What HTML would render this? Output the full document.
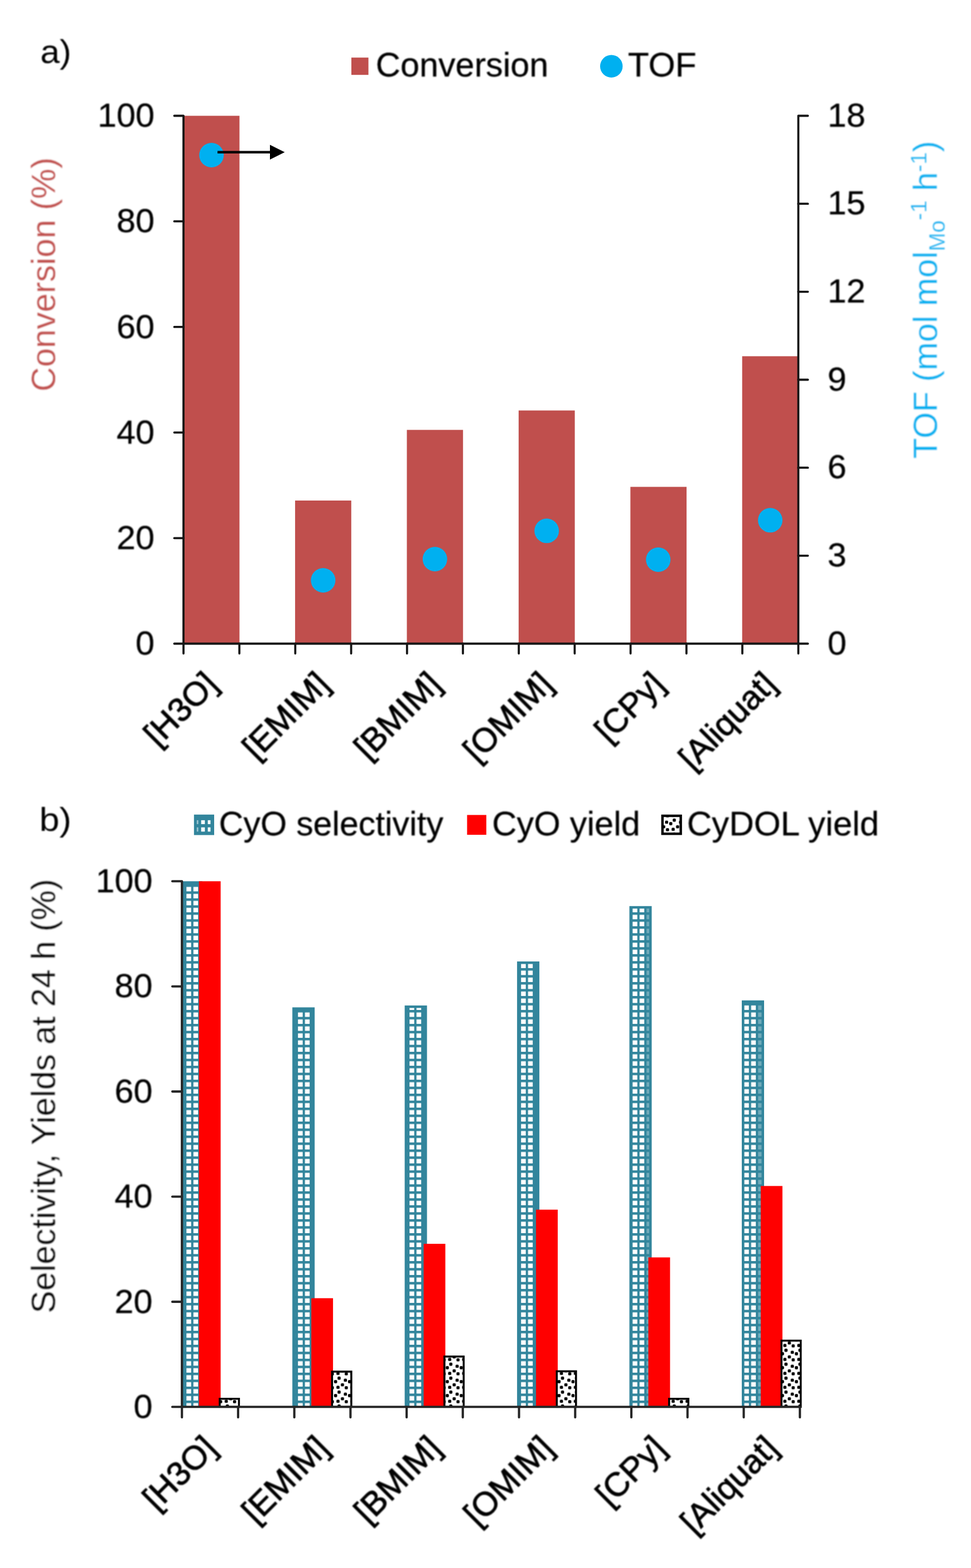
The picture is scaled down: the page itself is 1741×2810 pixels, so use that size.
<!DOCTYPE html>
<html lang="en">
<head>
<meta charset="utf-8">
<title>Conversion, TOF, selectivity and yields</title>
<style>
html,body{margin:0;padding:0;background:#fff;}
body{width:1741px;height:2810px;overflow:hidden;}
svg{display:block;}
</style>
</head>
<body>
<svg width="1741" height="2810" viewBox="0 0 1741 2810" role="img" aria-label="Bar charts of conversion, TOF, selectivity and yields for six catalysts">
<defs>
<filter id="soft" x="0" y="0" width="1741" height="2810" filterUnits="userSpaceOnUse"><feGaussianBlur stdDeviation="0.65"/></filter><filter id="softt" x="0" y="0" width="1741" height="2810" filterUnits="userSpaceOnUse"><feGaussianBlur stdDeviation="1.0"/></filter>
<pattern id="grid" patternUnits="userSpaceOnUse" x="5.20" y="9.90" width="12.5" height="12.5">
<rect width="12.5" height="12.5" fill="#31859C"/>
<rect x="4.10" y="4.50" width="8.4" height="8.0" fill="#fff"/>
</pattern>
<pattern id="gridp" patternUnits="userSpaceOnUse" x="5.20" y="9.90" width="12.5" height="12.5">
<rect width="12.5" height="12.5" fill="#31859C"/>
<rect x="4.10" y="4.50" width="8.4" height="8.0" fill="#fff" fill-opacity="0.3"/>
</pattern>
<pattern id="dots" patternUnits="userSpaceOnUse" x="21.18" y="11.20" width="25.04" height="25.0"><rect width="25.04" height="25.0" fill="#fff"/><g fill="#000"><rect x="6.10" y="-2.80" width="5.6" height="5.6" rx="1.6"/><rect x="6.10" y="22.20" width="5.6" height="5.6" rx="1.6"/><rect x="-4.04" y="-2.10" width="5.6" height="5.6" rx="1.6"/><rect x="-4.04" y="22.90" width="5.6" height="5.6" rx="1.6"/><rect x="21.00" y="-2.10" width="5.6" height="5.6" rx="1.6"/><rect x="21.00" y="22.90" width="5.6" height="5.6" rx="1.6"/><rect x="8.10" y="5.80" width="5.6" height="5.6" rx="1.6"/><rect x="1.80" y="12.10" width="5.6" height="5.6" rx="1.6"/><rect x="19.40" y="9.40" width="5.6" height="5.6" rx="1.6"/><rect x="14.10" y="17.70" width="5.6" height="5.6" rx="1.6"/></g></pattern>
</defs>
<rect width="1741" height="2810" fill="#fff"/>
<g filter="url(#soft)">
<g id="chart-a">
<rect x="328.7" y="207.5" width="100.7" height="946.0" fill="#C0504D"/>
<rect x="529.1" y="897.0" width="100.7" height="256.5" fill="#C0504D"/>
<rect x="729.5" y="770.4" width="100.7" height="383.1" fill="#C0504D"/>
<rect x="929.9" y="735.6" width="100.7" height="417.9" fill="#C0504D"/>
<rect x="1130.3" y="872.5" width="100.7" height="281.0" fill="#C0504D"/>
<rect x="1330.7" y="638.4" width="100.7" height="515.1" fill="#C0504D"/>
<g stroke="#141414" stroke-width="3.8" fill="none" stroke-linecap="round" stroke-linejoin="round">
<path d="M312.5 207.5H329.0V1153.5"/>
<path d="M1448.5 207.5H1431.4V1153.5"/>
<path d="M312.5 1153.5H1448.5"/>
<path d="M312.5 396.7H329.0"/>
<path d="M312.5 585.9H329.0"/>
<path d="M312.5 775.1H329.0"/>
<path d="M312.5 964.3H329.0"/>
<path d="M1431.4 365.2H1448.5"/>
<path d="M1431.4 522.8H1448.5"/>
<path d="M1431.4 680.5H1448.5"/>
<path d="M1431.4 838.2H1448.5"/>
<path d="M1431.4 995.8H1448.5"/>
<path d="M329.0 1153.5V1171"/>
<path d="M429.2 1153.5V1171"/>
<path d="M529.4 1153.5V1171"/>
<path d="M629.6 1153.5V1171"/>
<path d="M729.8 1153.5V1171"/>
<path d="M830.0 1153.5V1171"/>
<path d="M930.2 1153.5V1171"/>
<path d="M1030.4 1153.5V1171"/>
<path d="M1130.6 1153.5V1171"/>
<path d="M1230.8 1153.5V1171"/>
<path d="M1331.0 1153.5V1171"/>
<path d="M1431.4 1153.5V1171"/>
</g>
<circle cx="379.2" cy="278" r="22" fill="#00B0F0"/>
<circle cx="579.4" cy="1040" r="22" fill="#00B0F0"/>
<circle cx="779.8" cy="1002" r="22" fill="#00B0F0"/>
<circle cx="980.2" cy="951.3" r="22" fill="#00B0F0"/>
<circle cx="1180.2" cy="1003" r="22" fill="#00B0F0"/>
<circle cx="1381" cy="932.3" r="22" fill="#00B0F0"/>
<path d="M390 272.7H487" stroke="#000" stroke-width="4.4" fill="none"/>
<path d="M484 259.5L510.5 272.7L484 286Z" fill="#000"/>
<rect x="630" y="103.2" width="30.6" height="31" fill="#C0504D"/>
<circle cx="1096.2" cy="118.7" r="20.2" fill="#00B0F0"/>
</g>
<g id="chart-b">
<rect x="326.2" y="1579.3" width="36.5" height="942.0" fill="#31859C"/>
<rect x="330.70" y="1585.40" width="27.50" height="935.90" fill="url(#grid)"/>
<rect x="356.7" y="1579.3" width="38.9" height="942.0" fill="#FF0000"/>
<rect x="393.95" y="2506.75" width="34.50" height="14.55" fill="url(#dots)" stroke="#000" stroke-width="3.5"/>
<rect x="524.2" y="1805.3" width="40.0" height="716.0" fill="#31859C"/>
<rect x="530.70" y="1810.40" width="28.10" height="710.90" fill="url(#grid)"/>
<rect x="558.2" y="2326.5" width="38.9" height="194.8" fill="#FF0000"/>
<rect x="595.40" y="2458.05" width="34.50" height="63.25" fill="url(#dots)" stroke="#000" stroke-width="3.5"/>
<rect x="725.6" y="1801.9" width="40.0" height="719.4" fill="#31859C"/>
<rect x="730.70" y="1806.40" width="28.10" height="714.90" fill="url(#grid)"/>
<rect x="759.6" y="2229.0" width="38.9" height="292.3" fill="#FF0000"/>
<rect x="796.86" y="2431.05" width="34.50" height="90.25" fill="url(#dots)" stroke="#000" stroke-width="3.5"/>
<rect x="927.1" y="1723.0" width="40.0" height="798.3" fill="#31859C"/>
<rect x="931.56" y="1727.50" width="27.24" height="793.80" fill="url(#grid)"/>
<rect x="961.1" y="2167.8" width="38.9" height="353.5" fill="#FF0000"/>
<rect x="998.31" y="2457.45" width="34.50" height="63.85" fill="url(#dots)" stroke="#000" stroke-width="3.5"/>
<rect x="1128.5" y="1623.8" width="40.0" height="897.5" fill="#31859C"/>
<rect x="1133.02" y="1628.30" width="26.27" height="893.00" fill="url(#grid)"/>
<rect x="1159.29" y="1628.30" width="4.73" height="893.00" fill="url(#gridp)"/>
<rect x="1162.5" y="2253.4" width="38.9" height="267.9" fill="#FF0000"/>
<rect x="1199.77" y="2506.75" width="34.50" height="14.55" fill="url(#dots)" stroke="#000" stroke-width="3.5"/>
<rect x="1330.0" y="1792.8" width="40.0" height="728.5" fill="#31859C"/>
<rect x="1334.47" y="1797.90" width="24.82" height="723.40" fill="url(#grid)"/>
<rect x="1359.29" y="1797.90" width="6.18" height="723.40" fill="url(#gridp)"/>
<rect x="1364.0" y="2125.4" width="38.9" height="395.9" fill="#FF0000"/>
<rect x="1401.22" y="2402.55" width="34.50" height="118.75" fill="url(#dots)" stroke="#000" stroke-width="3.5"/>
<g stroke="#262626" stroke-width="4.1" fill="none" stroke-linecap="round" stroke-linejoin="round">
<path d="M309 1579.3H326.2V2521.3"/>
<path d="M309 2521.3H1434.2"/>
<path d="M309 1767.7H326.2"/>
<path d="M309 1956.1H326.2"/>
<path d="M309 2144.5H326.2"/>
<path d="M309 2332.9H326.2"/>
<path d="M326.2 2521.3V2540"/>
<path d="M426.9 2521.3V2540"/>
<path d="M527.7 2521.3V2540"/>
<path d="M628.4 2521.3V2540"/>
<path d="M729.1 2521.3V2540"/>
<path d="M829.8 2521.3V2540"/>
<path d="M930.6 2521.3V2540"/>
<path d="M1031.3 2521.3V2540"/>
<path d="M1132.0 2521.3V2540"/>
<path d="M1232.7 2521.3V2540"/>
<path d="M1333.5 2521.3V2540"/>
<path d="M1434.2 2521.3V2540"/>
</g>
<rect x="347.8" y="1459.8" width="36.2" height="36.7" fill="#31859C"/>
<rect x="352.8" y="1469.9" width="2.8" height="7.0" fill="#fff" fill-opacity="0.5"/>
<rect x="352.8" y="1482.7" width="2.8" height="7.6" fill="#fff" fill-opacity="0.5"/>
<rect x="360.7" y="1469.9" width="6.6" height="7.0" fill="#fff" fill-opacity="1"/>
<rect x="360.7" y="1482.7" width="6.6" height="7.6" fill="#fff" fill-opacity="1"/>
<rect x="372.6" y="1469.9" width="4.8" height="7.0" fill="#fff" fill-opacity="1"/>
<rect x="372.6" y="1482.7" width="4.8" height="7.6" fill="#fff" fill-opacity="1"/>
<rect x="837.5" y="1460.5" width="34.5" height="35.5" fill="#FF0000"/>
<rect x="1187.8" y="1462.0" width="32.8" height="32.2" fill="url(#dots)" stroke="#000" stroke-width="4.4"/>
</g>
</g>
<g id="labels" font-family='"Liberation Sans", Arial, Helvetica, sans-serif' font-size="60" fill="#000" stroke="#000" stroke-width="0.35" stroke-linejoin="round" filter="url(#softt)">
<text transform="translate(72.17 113.30) scale(1.0435 1.0000)" stroke="none">a)</text>
<text transform="translate(70.38 1488.50) scale(1.0800 1.0000)" stroke="none">b)</text>
<text transform="translate(673.69 137.30) scale(1.0037 1.0000)" font-size="61">Conversion</text>
<text transform="translate(1125.68 137.30) scale(1.0171 1.0000)" font-size="61">TOF</text>
<text transform="translate(392.51 1496.70) scale(0.9978 1.0000)" font-size="61">CyO selectivity</text>
<text transform="translate(882.29 1496.70) scale(1.0043 1.0000)" font-size="61">CyO yield</text>
<text transform="translate(1231.66 1496.70) scale(1.0129 1.0000)" font-size="61">CyDOL yield</text>
<text transform="translate(277.0 227.2) scale(1.02 1)" text-anchor="end">100</text>
<text transform="translate(277.0 416.4) scale(1.02 1)" text-anchor="end">80</text>
<text transform="translate(277.0 605.6) scale(1.02 1)" text-anchor="end">60</text>
<text transform="translate(277.0 794.8) scale(1.02 1)" text-anchor="end">40</text>
<text transform="translate(277.0 984.0) scale(1.02 1)" text-anchor="end">20</text>
<text transform="translate(277.0 1173.2) scale(1.02 1)" text-anchor="end">0</text>
<text transform="translate(1483.8 226.5) scale(1.02 1)">18</text>
<text transform="translate(1483.8 384.2) scale(1.02 1)">15</text>
<text transform="translate(1483.8 541.8) scale(1.02 1)">12</text>
<text transform="translate(1483.8 699.5) scale(1.02 1)">9</text>
<text transform="translate(1483.8 857.2) scale(1.02 1)">6</text>
<text transform="translate(1483.8 1014.8) scale(1.02 1)">3</text>
<text transform="translate(1483.8 1172.5) scale(1.02 1)">0</text>
<text transform="translate(273.5 1599.0) scale(1.02 1)" text-anchor="end">100</text>
<text transform="translate(273.5 1787.4) scale(1.02 1)" text-anchor="end">80</text>
<text transform="translate(273.5 1975.8) scale(1.02 1)" text-anchor="end">60</text>
<text transform="translate(273.5 2164.2) scale(1.02 1)" text-anchor="end">40</text>
<text transform="translate(273.5 2352.6) scale(1.02 1)" text-anchor="end">20</text>
<text transform="translate(273.5 2541.0) scale(1.02 1)" text-anchor="end">0</text>
<text transform="translate(393.5 1229.5) rotate(-45)" text-anchor="end" stroke="#000" stroke-width="1.1">[H3O]</text>
<text transform="translate(593.8 1229.5) rotate(-45)" text-anchor="end" stroke="#000" stroke-width="1.1">[EMIM]</text>
<text transform="translate(794.1 1229.5) rotate(-45)" text-anchor="end" stroke="#000" stroke-width="1.1">[BMIM]</text>
<text transform="translate(994.4 1229.5) rotate(-45)" text-anchor="end" stroke="#000" stroke-width="1.1">[OMIM]</text>
<text transform="translate(1194.7 1229.5) rotate(-45)" text-anchor="end" stroke="#000" stroke-width="1.1">[CPy]</text>
<text transform="translate(1395.0 1229.5) rotate(-45)" text-anchor="end" stroke="#000" stroke-width="1.1">[Aliquat]</text>
<text transform="translate(391.5 2598.5) rotate(-45)" text-anchor="end" stroke="#000" stroke-width="1.1">[H3O]</text>
<text transform="translate(592.8 2598.5) rotate(-45)" text-anchor="end" stroke="#000" stroke-width="1.1">[EMIM]</text>
<text transform="translate(794.1 2598.5) rotate(-45)" text-anchor="end" stroke="#000" stroke-width="1.1">[BMIM]</text>
<text transform="translate(995.4 2598.5) rotate(-45)" text-anchor="end" stroke="#000" stroke-width="1.1">[OMIM]</text>
<text transform="translate(1196.7 2598.5) rotate(-45)" text-anchor="end" stroke="#000" stroke-width="1.1">[CPy]</text>
<text transform="translate(1398.0 2598.5) rotate(-45)" text-anchor="end" stroke="#000" stroke-width="1.1">[Aliquat]</text>
<text transform="translate(98.80 701.70) rotate(-90) scale(0.9988 1.0000)" font-size="61" fill="#C0504D" stroke="#fff" stroke-width="0.35">Conversion (%)</text>
<text transform="translate(98.80 2353.59) rotate(-90) scale(0.9955 1.0000)" font-size="61" stroke="#fff" stroke-width="0.35">Selectivity, Yields at 24 h (%)</text>
<text transform="translate(1680.10 822.10) rotate(-90) scale(1.0004 1.0000)" font-size="61" fill="#00B0F0" stroke="#fff" stroke-width="0.35">TOF (mol mol<tspan font-size="40" dy="14.4">Mo</tspan><tspan font-size="40" dy="-33.4">-1</tspan><tspan dy="19"> h</tspan><tspan font-size="40" dy="-19">-1</tspan><tspan dy="19">)</tspan></text>
</g>
</svg>
</body>
</html>
